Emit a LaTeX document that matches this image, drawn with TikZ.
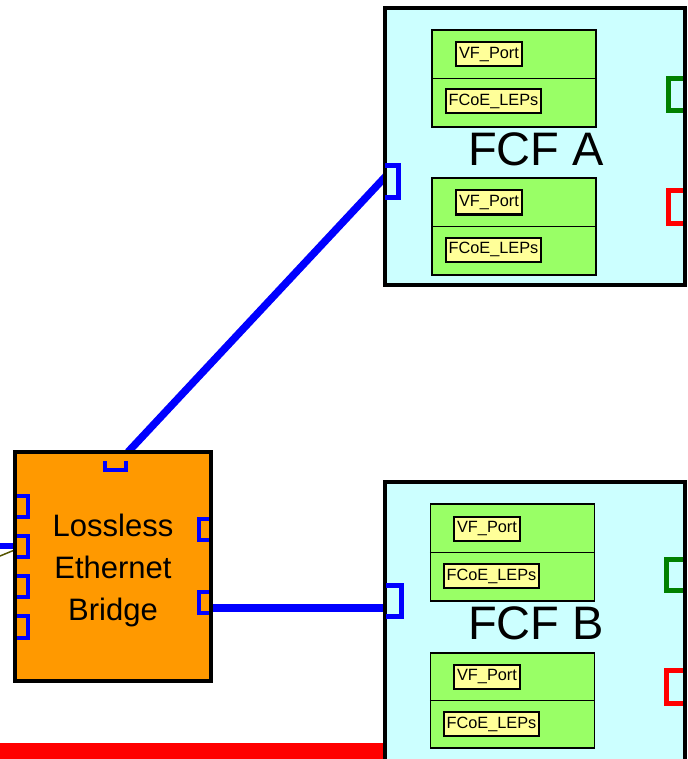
\documentclass[tikz,border=0pt]{standalone}
\usepackage{fontspec}
\setmainfont{Liberation Sans}
\definecolor{fcfcyan}{HTML}{CCFFFF}
\definecolor{lepgreen}{HTML}{99FF66}
\definecolor{portyellow}{HTML}{FFFF99}
\definecolor{bridgeorange}{HTML}{FF9900}
\definecolor{portgreen}{HTML}{008000}
\definecolor{olive}{HTML}{555500}
\begin{document}
\begin{tikzpicture}[x=1pt,y=-1pt,
  fcfbox/.style={draw=black,fill=fcfcyan,line width=4.5pt,minimum width=300pt,inner sep=0pt},
  lepbox/.style={draw=black,fill=lepgreen,line width=1.5pt,minimum width=164pt,minimum height=97pt,inner sep=0pt},
  ylwbox/.style={draw=black,fill=portyellow,line width=2pt,minimum height=24pt,inner sep=0pt,font=\fontsize{16.3}{19}\selectfont},
  vfbox/.style={ylwbox,minimum width=66pt},
  lepsbox/.style={ylwbox,minimum width=95pt},
  bigtitle/.style={font=\fontsize{47}{50}\selectfont,inner sep=0pt},
  bridgebox/.style={draw=black,fill=bridgeorange,line width=4pt,minimum width=196pt,minimum height=229pt,inner sep=0pt},
  portline/.style={line width=5pt,line cap=butt,line join=miter},
  bport/.style={portline,draw=blue},
  gport/.style={portline,draw=portgreen},
  rport/.style={portline,draw=red},
  link/.style={draw=blue,line width=7.5pt},
]
\clip (0,0) rectangle (687,759);
\useasboundingbox (0,0) rectangle (687,759);

% connector end points
\coordinate (brTop) at (128,452);
\coordinate (fcfApt) at (386,176);
\coordinate (brRight) at (211,607.5);
\coordinate (fcfBpt) at (385,607.5);
\coordinate (leftIn) at (0,546);
\coordinate (brLeft) at (17,546);
\coordinate (thinIn) at (0,556);
\coordinate (thinEnd) at (17,549);
\coordinate (redIn) at (0,751);
\coordinate (redEnd) at (385,751);

% connectors
\draw[link] (brTop) -- (fcfApt);
\draw[link,line width=8pt] (brRight) -- (fcfBpt);
\draw[blue,line width=6pt] (leftIn) -- (brLeft);
\draw[olive,line width=1.5pt] (thinIn) -- (thinEnd);
\draw[red,line width=16pt] (redIn) -- (redEnd);

% FCF A
\node[fcfbox,minimum height=277pt] (fcfA) at (535,146.5) {};
\node[bigtitle] (fcfAlbl) at (536,149) {FCF A};
\node[lepbox] (a1) at (514,78.5) {};
\draw[line width=1.8pt] (a1.west) -- (a1.east);
\node[vfbox] (a1vf) at (489,54.5) {VF\_Port};
\node[lepsbox] (a1lep) at (493.5,101) {FCoE\_LEPs};
\node[lepbox] (a2) at (514,226.5) {};
\draw[line width=1.8pt] (a2.west) -- (a2.east);
\node[vfbox] (a2vf) at (489,202.5) {VF\_Port};
\node[lepsbox] (a2lep) at (493.5,249.5) {FCoE\_LEPs};
\draw[bport] (385,165.5) -- (398.5,165.5) -- (398.5,197.5) -- (385,197.5);
\draw[gport] (683,78.5) -- (668.5,78.5) -- (668.5,110.5) -- (683,110.5);
\draw[rport] (683,190.5) -- (668.5,190.5) -- (668.5,223.5) -- (683,223.5);

% FCF B
\node[fcfbox,minimum height=318pt] (fcfB) at (535,641) {};
\node[bigtitle] (fcfBlbl) at (536,623) {FCF B};
\node[lepbox] (b1) at (512.5,552.5) {};
\draw[line width=1.8pt] (b1.west) -- (b1.east);
\node[vfbox] (b1vf) at (487,529) {VF\_Port};
\node[lepsbox] (b1lep) at (491.5,576) {FCoE\_LEPs};
\node[lepbox,minimum height=95pt] (b2) at (512.5,700.5) {};
\draw[line width=1.8pt] (b2.west) -- (b2.east);
\node[vfbox] (b2vf) at (487,676.5) {VF\_Port};
\node[lepsbox] (b2lep) at (491.5,724) {FCoE\_LEPs};
\draw[bport] (386,585.5) -- (401.5,585.5) -- (401.5,616.5) -- (386,616.5);
\draw[gport] (683,559.5) -- (666.5,559.5) -- (666.5,590.5) -- (683,590.5);
\draw[rport] (683,670.5) -- (666.5,670.5) -- (666.5,703.5) -- (683,703.5);

% Bridge
\node[bridgebox] (bridge) at (113,566.5) {};
\node[align=center,font=\fontsize{31}{42}\selectfont,inner sep=0pt] (bridgelbl) at (113,570) {Lossless\\Ethernet\\Bridge};
\draw[bport,line width=4pt] (105,461) -- (105,470) -- (126,470) -- (126,461);
\foreach \t/\b in {496/517,536/557,576/597,616/638}{
  \draw[bport,line width=4.5pt] (17,\t) -- (28,\t) -- (28,\b) -- (17,\b);
}
\foreach \t/\b in {519/540,592/613}{
  \draw[bport,line width=4.5pt] (209,\t) -- (199,\t) -- (199,\b) -- (209,\b);
}
\end{tikzpicture}
\end{document}
